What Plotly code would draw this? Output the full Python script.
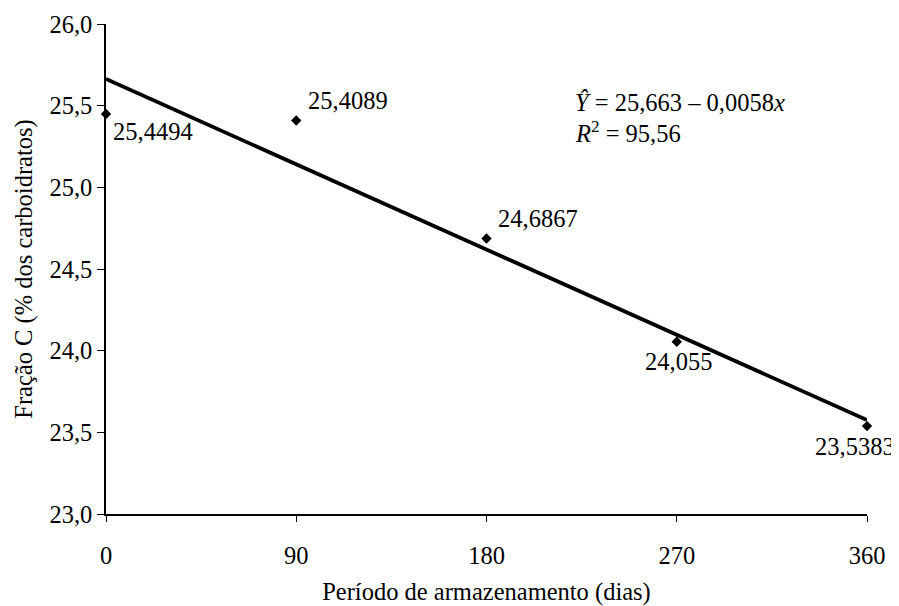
import plotly.graph_objects as go

# Data
dias = [0, 90, 180, 270, 360]
fracao_c = [25.4494, 25.4089, 24.6867, 24.055, 23.5383]
rotulos = ["25,4494", "25,4089", "24,6867", "24,055", "23,5383"]
intercepto = 25.663
inclinacao = -0.0058
x_ticks = [0, 90, 180, 270, 360]
y_ticks = [23.0, 23.5, 24.0, 24.5, 25.0, 25.5, 26.0]

FONT = "'Liberation Serif', 'Times New Roman', Times, serif"
FS = 24.5

reg_x = [0, 360]
reg_y = [intercepto + inclinacao * v for v in reg_x]

fig = go.Figure()
fig.add_trace(go.Scatter(x=reg_x, y=reg_y, mode="lines",
                         line=dict(color="black", width=3.8),
                         showlegend=False, cliponaxis=False))
fig.add_trace(go.Scatter(x=dias, y=fracao_c, mode="markers",
                         marker=dict(symbol="diamond", size=8, color="black"),
                         showlegend=False, cliponaxis=False))

# label offsets (pixels)
offs = [
    dict(xanchor="left", xshift=5, yshift=-18),
    dict(xanchor="left", xshift=10, yshift=20),
    dict(xanchor="left", xshift=9, yshift=20),
    dict(xanchor="center", xshift=2, yshift=-20),
    dict(xanchor="center", xshift=-12, yshift=-20),
]
for xv, yv, t, o in zip(dias, fracao_c, rotulos, offs):
    fig.add_annotation(x=xv, y=yv, text=t, showarrow=False,
                       font=dict(family=FONT, size=FS, color="black"),
                       yanchor="middle", **o)

fig.add_annotation(xref="paper", yref="paper", x=0.614, y=0.839,
                   text="<i>Ŷ</i> = 25,663 – 0,0058<i>x</i>", showarrow=False,
                   xanchor="left", yanchor="middle",
                   font=dict(family=FONT, size=FS, color="black"))
fig.add_annotation(xref="paper", yref="paper", x=0.614, y=0.780,
                   text="<i>R</i><sup>2</sup> = 95,56", showarrow=False,
                   xanchor="left", yanchor="middle",
                   font=dict(family=FONT, size=FS, color="black"))

# page body has an 8px margin, so the figure is 8px smaller than the window
fig.update_layout(
    width=891, height=598,
    margin=dict(l=98, r=32, t=16, b=92),
    paper_bgcolor="white", plot_bgcolor="white",
    separators=",.",
    font=dict(family=FONT, size=FS, color="black"),
    xaxis=dict(range=[0, 360], tickvals=x_ticks, ticks="outside", ticklen=6,
               tickcolor="black", showline=True, linecolor="black", linewidth=1.5,
               showgrid=False, zeroline=False, ticklabelstandoff=13,
               automargin=False,
               tickfont=dict(family=FONT, size=FS, color="black"),
               title=dict(text="Período de armazenamento (dias)", standoff=15,
                          font=dict(family=FONT, size=FS, color="black"))),
    yaxis=dict(range=[23, 26], tickvals=y_ticks, tickformat=".1f", ticks="outside",
               ticklen=7, tickcolor="black", showline=True, linecolor="black",
               linewidth=1.5, showgrid=False, zeroline=False,
               automargin=False,
               tickfont=dict(family=FONT, size=FS, color="black"),
               title=dict(text="Fração C (% dos carboidratos)", standoff=10,
                          font=dict(family=FONT, size=FS, color="black"))),
)

fig.write_html("out.html")
